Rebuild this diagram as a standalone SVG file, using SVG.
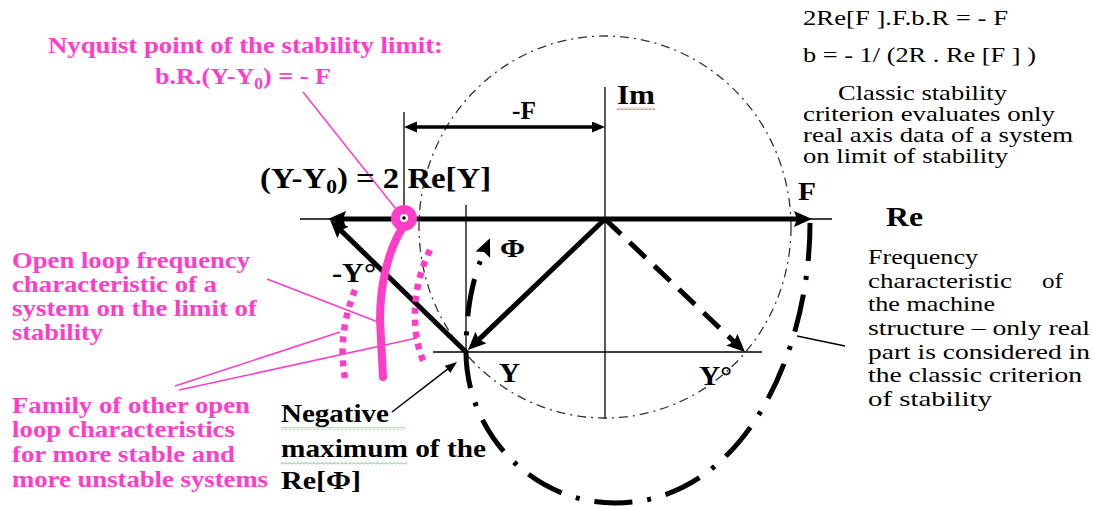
<svg xmlns="http://www.w3.org/2000/svg" width="1093" height="506" viewBox="0 0 1093 506" font-family="'Liberation Serif', 'Times New Roman', 'DejaVu Serif', serif">
<style>
text{font-family:'Liberation Serif','Times New Roman','DejaVu Serif',serif}
.b{font-weight:bold}
.pk{fill:#ff3dc8;font-weight:bold;font-size:24px}
.tr{font-size:21px;fill:#000}
.rl{font-size:22px;fill:#000}
.thin{stroke:#000;stroke-width:1.3;fill:none}
.thick{stroke:#000;stroke-width:5;fill:none}
.pl{stroke:#ff3dc8;stroke-width:1.5;fill:none}
.pdot{stroke:#ff3dc8;stroke-width:6.5;fill:none;stroke-dasharray:6 6}
</style>
<defs>
<marker id="arr" markerUnits="userSpaceOnUse" markerWidth="20" markerHeight="18" refX="3" refY="8" orient="auto-start-reverse"><path d="M0,0 L18,8 L0,16 L3,8 z" fill="#000"/></marker>
<marker id="arrS" markerUnits="userSpaceOnUse" markerWidth="15" markerHeight="13" refX="1" refY="5.5" orient="auto-start-reverse"><path d="M0,0 L13,5.5 L0,11 z" fill="#000"/></marker>
<marker id="arrT" markerUnits="userSpaceOnUse" markerWidth="14" markerHeight="11" refX="1" refY="4.5" orient="auto"><path d="M0,0 L12,4.5 L0,9 z" fill="#000"/></marker>
<pattern id="sqG" patternUnits="userSpaceOnUse" width="4" height="3"><polyline points="0,2.5 2,0.5 4,2.5" fill="none" stroke="#5cb85c" stroke-width="0.9"/></pattern>
<pattern id="sqR" patternUnits="userSpaceOnUse" width="4" height="3"><polyline points="0,2.5 2,0.5 4,2.5" fill="none" stroke="#e02020" stroke-width="0.9"/></pattern>
</defs>
<rect width="1093" height="506" fill="#fff"/>

<g id="axes">
<line class="thin" x1="300" y1="219" x2="832" y2="219"/>
<line class="thin" x1="605" y1="87" x2="605" y2="419"/>
<line class="thin" x1="433" y1="352" x2="762" y2="352"/>
<line class="thin" x1="466" y1="205" x2="466" y2="352"/>
<line class="thin" x1="404" y1="112" x2="404" y2="210"/>
</g>

<g id="reference-circle">
<ellipse cx="605" cy="227" rx="186" ry="191" fill="none" stroke="#333" stroke-width="1.3" stroke-dasharray="9 5 2 5"/>
</g>

<g id="machine-characteristic">
<path class="thick" d="M810,223 C810,350 745,503 615,503 C530,503 466,430 466,352 C466,305 474,275 484,252" stroke-dasharray="38 15 4 15" marker-end="url(#arr)"/>
</g>

<g id="connectors">
<line class="thick" x1="343" y1="219" x2="797" y2="219" marker-start="url(#arr)" marker-end="url(#arr)"/>
<line class="thick" x1="466" y1="352" x2="340.8" y2="230.4" marker-end="url(#arr)"/>
<line class="thick" x1="605" y1="219" x2="478.8" y2="339.6" marker-end="url(#arr)"/>
<line class="thick" x1="605" y1="219" x2="734.1" y2="341.7" stroke-dasharray="22 12" marker-end="url(#arr)"/>
<line x1="416" y1="127" x2="593" y2="127" stroke="#000" stroke-width="3.5" marker-start="url(#arrS)" marker-end="url(#arrS)"/>
<line x1="392" y1="412" x2="448.3" y2="368.7" stroke="#000" stroke-width="1.5" marker-end="url(#arrT)"/>
<line class="thin" x1="797" y1="336" x2="845" y2="346"/>
<line class="pl" x1="303" y1="92" x2="396" y2="209"/>
<line class="pl" x1="267" y1="279" x2="378" y2="322"/>
<line class="pl" x1="175" y1="386" x2="340" y2="332"/>
<line class="pl" x1="179" y1="390" x2="417" y2="338"/>
</g>

<g id="pink-curves">
<path class="pdot" d="M355,290 C345,315 339,345 345,378"/>
<path class="pdot" d="M430,250 C415,280 408,325 424,363"/>
<path d="M403,227 C388,250 380,285 380,320 L383,377" fill="none" stroke="#ff3dc8" stroke-width="8" stroke-linecap="round"/>
</g>

<g id="nyquist-point">
<circle cx="404" cy="218" r="13" fill="#ff3dc8"/>
<circle cx="404" cy="218" r="4" fill="#fff"/>
<circle cx="404" cy="218" r="1.8" fill="#000"/>
</g>

<g id="label-nyquist">
<text class="pk" x="48" y="53" textLength="395" lengthAdjust="spacingAndGlyphs">Nyquist point of the stability limit:</text>
<text class="pk" transform="translate(155,84) scale(1.09,1)">b.R.(Y-Y<tspan font-size="16" dy="5">0</tspan><tspan dy="-5">) = - F</tspan></text>
</g>

<g id="label-open-loop">
<text class="pk" x="12" y="268" textLength="238" lengthAdjust="spacingAndGlyphs">Open loop frequency</text>
<text class="pk" x="12" y="292" textLength="205" lengthAdjust="spacingAndGlyphs">characteristic of a</text>
<text class="pk" x="12" y="316" textLength="245" lengthAdjust="spacingAndGlyphs">system on the limit of</text>
<text class="pk" x="12" y="340" textLength="91" lengthAdjust="spacingAndGlyphs">stability</text>
</g>

<g id="label-family">
<text class="pk" x="12" y="413" textLength="238" lengthAdjust="spacingAndGlyphs">Family of other open</text>
<text class="pk" x="12" y="437" textLength="223" lengthAdjust="spacingAndGlyphs">loop characteristics</text>
<text class="pk" x="12" y="462" textLength="223" lengthAdjust="spacingAndGlyphs">for more stable and</text>
<text class="pk" x="12" y="487" textLength="256" lengthAdjust="spacingAndGlyphs">more unstable systems</text>
</g>

<g id="label-y-y0">
<text class="b" font-size="29" transform="translate(260,188) scale(1.13,1)">(Y-Y<tspan font-size="19" dy="5">0</tspan><tspan dy="-5">) = 2 Re[Y]</tspan></text>
</g>

<g id="label-minus-f">
<text class="b" font-size="26" x="512" y="119" textLength="24" lengthAdjust="spacingAndGlyphs">-F</text>
</g>

<g id="label-im">
<text class="b" font-size="27" x="617" y="104" textLength="38" lengthAdjust="spacingAndGlyphs">Im</text>
<rect x="617" y="107" width="38" height="3" fill="url(#sqR)"/>
</g>

<g id="label-re">
<text class="b" font-size="27" x="886" y="226" textLength="37" lengthAdjust="spacingAndGlyphs">Re</text>
</g>

<g id="label-f">
<text class="b" font-size="26" x="798" y="200" textLength="18" lengthAdjust="spacingAndGlyphs">F</text>
</g>

<g id="label-phi">
<text class="b" font-size="26" x="500" y="257" textLength="25" lengthAdjust="spacingAndGlyphs">Φ</text>
</g>

<g id="label-minus-y">
<text class="b" font-size="27" x="332" y="282" textLength="44" lengthAdjust="spacingAndGlyphs">-Y°</text>
</g>

<g id="label-y">
<text class="b" font-size="27" x="499" y="382" textLength="21" lengthAdjust="spacingAndGlyphs">Y</text>
</g>

<g id="label-y-conj">
<text class="b" font-size="27" x="699" y="385" textLength="33" lengthAdjust="spacingAndGlyphs">Y°</text>
</g>

<g id="label-negative-max">
<text class="b" font-size="26" x="281" y="422" textLength="108" lengthAdjust="spacingAndGlyphs">Negative</text>
<rect x="281" y="427" width="124" height="3" fill="url(#sqG)"/>
<text class="b" font-size="26" x="281" y="457" textLength="205" lengthAdjust="spacingAndGlyphs">maximum of the</text>
<rect x="281" y="462" width="126" height="3" fill="url(#sqG)"/>
<text class="b" font-size="26" x="281" y="489" textLength="80" lengthAdjust="spacingAndGlyphs">Re[Φ]</text>
</g>

<g id="label-criterion">
<text class="tr" x="803" y="25" textLength="205" lengthAdjust="spacingAndGlyphs">2Re[F ].F.b.R = - F</text>
<text class="tr" x="803" y="62" textLength="233" lengthAdjust="spacingAndGlyphs">b = - 1/ (2R . Re [F ] )</text>
<text class="tr" x="838" y="100" textLength="169" lengthAdjust="spacingAndGlyphs">Classic stability</text>
<text class="tr" x="803" y="121" textLength="252" lengthAdjust="spacingAndGlyphs">criterion evaluates only</text>
<text class="tr" x="803" y="142" textLength="270" lengthAdjust="spacingAndGlyphs">real axis data of a system</text>
<text class="tr" x="803" y="163" textLength="205" lengthAdjust="spacingAndGlyphs">on limit of stability</text>
</g>

<g id="label-machine">
<text class="rl" x="868" y="264" textLength="110" lengthAdjust="spacingAndGlyphs">Frequency</text>
<text class="rl" x="868" y="288" textLength="144" lengthAdjust="spacingAndGlyphs">characteristic</text>
<text class="rl" x="1042" y="288" textLength="21" lengthAdjust="spacingAndGlyphs">of</text>
<text class="rl" x="868" y="311" textLength="127" lengthAdjust="spacingAndGlyphs">the machine</text>
<text class="rl" x="868" y="335" textLength="222" lengthAdjust="spacingAndGlyphs">structure – only real</text>
<text class="rl" x="868" y="359" textLength="222" lengthAdjust="spacingAndGlyphs">part is considered in</text>
<text class="rl" x="868" y="382" textLength="214" lengthAdjust="spacingAndGlyphs">the classic criterion</text>
<text class="rl" x="868" y="406" textLength="124" lengthAdjust="spacingAndGlyphs">of stability</text>
</g>
</svg>
